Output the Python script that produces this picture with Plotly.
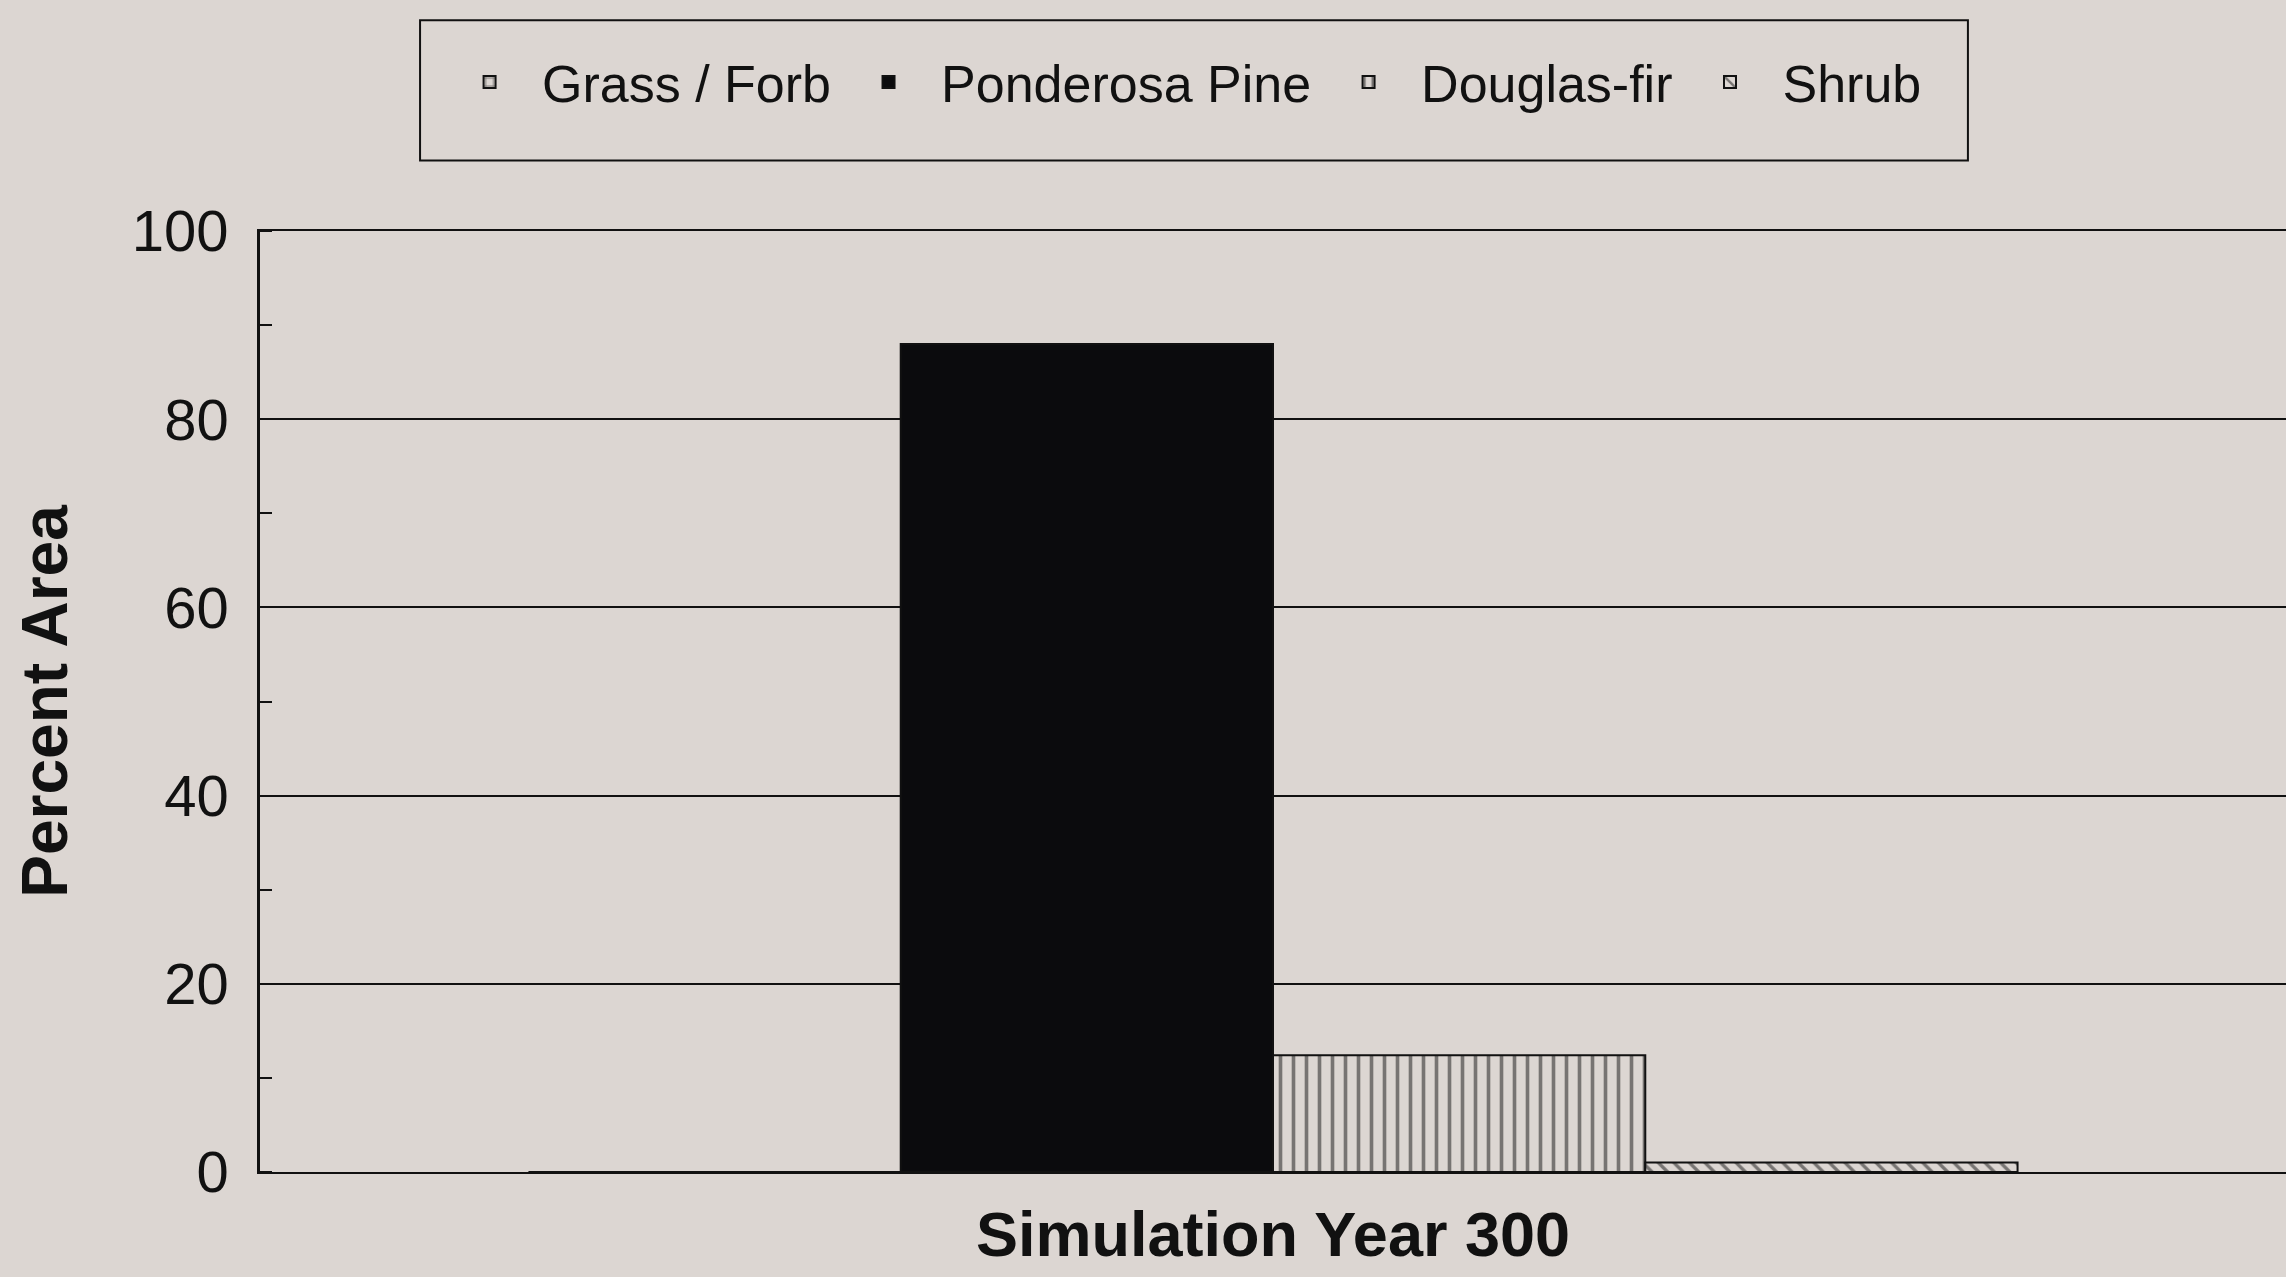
import plotly.graph_objects as go

# ---- data ----
categories = ["Simulation Year 300"]
series_names = ["Grass / Forb", "Ponderosa Pine", "Douglas-fir", "Shrub"]
grass_forb = [0.0]
ponderosa_pine = [88.0]
douglas_fir = [12.4]
shrub = [1.0]
y_tick_vals = [0, 20, 40, 60, 80, 100]
y_tick_text = ["0", "20", "40", "60", "80", "100"]

# ---- styling ----
BG = "#dcd6d2"
INK = "#111111"
FONT = "Liberation Sans"

series_values = [grass_forb, ponderosa_pine, douglas_fir, shrub]
fills = [
    dict(color=BG, pattern=dict(shape="+", fgcolor=INK, bgcolor=BG, size=14, solidity=0.25)),
    dict(color="#0b0b0d"),
    dict(color=BG, pattern=dict(shape="|", fgcolor=INK, bgcolor=BG, size=13, solidity=0.28)),
    dict(color=BG, pattern=dict(shape="\\", fgcolor=INK, bgcolor=BG, size=11, solidity=0.3)),
]

fig = go.Figure()
for name, vals, mk in zip(series_names, series_values, fills):
    mk = dict(mk)
    mk["line"] = dict(color=INK, width=2)
    fig.add_trace(go.Bar(x=categories, y=vals, name=name, marker=mk))

fig.update_layout(
    width=2286, height=1277,
    paper_bgcolor=BG, plot_bgcolor=BG,
    barmode="group", bargap=0.265, bargroupgap=0,
    margin=dict(l=260, r=0, t=231, b=105, autoexpand=False),
    font=dict(family=FONT, color=INK),
    showlegend=True,
    legend=dict(
        orientation="h", x=0.0874, xanchor="left", y=1.158, yanchor="middle",
        font=dict(family=FONT, size=52, color=INK),
        bgcolor="rgba(0,0,0,0)", borderwidth=0,
        itemwidth=95,
    ),
    shapes=[dict(type="rect", xref="paper", yref="paper",
                 x0=0.079, x1=0.843, y0=1.075, y1=1.224,
                 line=dict(color=INK, width=2), fillcolor="rgba(0,0,0,0)", layer="below")],
)

fig.update_xaxes(
    type="category", showgrid=False, ticks="",
    showline=True, linecolor=INK, linewidth=2, mirror=True,
    tickfont=dict(family=FONT, size=63, color=INK, weight="bold"),
    ticklabelstandoff=6,
)
fig.update_yaxes(
    range=[0, 100], tickvals=y_tick_vals, ticktext=y_tick_text,
    showgrid=True, gridcolor=INK, gridwidth=1.5,
    showline=True, linecolor=INK, linewidth=2.5, mirror=False,
    ticks="", ticklabelstandoff=17,
    tickfont=dict(family=FONT, size=58, color=INK),
    minor=dict(ticks="inside", ticklen=12, tickwidth=1.5, tickcolor=INK, dtick=10, showgrid=False),
    zeroline=False,
    title=dict(text="Percent Area", standoff=44,
               font=dict(family=FONT, size=64, color=INK, weight="bold")),
)

fig.write_html(
    "out.html",
    config={"displayModeBar": False},
    post_script="document.body.style.margin='0';document.body.style.background='#dcd6d2';",
)
